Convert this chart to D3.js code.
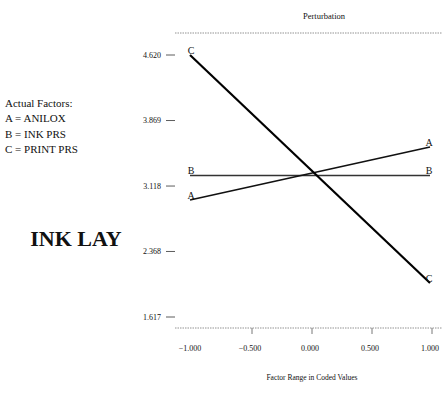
<!DOCTYPE html>
<html>
<head>
<meta charset="utf-8">
<script src="https://cdn.jsdelivr.net/npm/d3@7"></script>
<style>
  body { margin: 0; background: #fff; }
  svg { display: block; }
  text { font-family: "Liberation Serif", "DejaVu Serif", serif; fill: #111; }
</style>
</head>
<body>
<svg id="chart" width="442" height="396"></svg>
<script>
// factor levels (coded) and predicted response at each end
const levels = [-1, 1]
const factorA = [2.958, 3.566]   // ANILOX
const factorB = [3.239, 3.239]   // INK PRS
const factorC = [4.620, 2.007]   // PRINT PRS
const xTicks = [-1, -0.5, 0, 0.5, 1]
const yTicks = [1.617, 2.368, 3.118, 3.869, 4.620]
const legendLines = ['Actual Factors:', 'A = ANILOX', 'B = INK PRS', 'C = PRINT PRS']

const svg = d3.select('#chart')

const x = d3.scaleLinear().domain([-1, 1]).range([190, 430])
const y = d3.scaleLinear().domain([1.617, 4.620]).range([317, 55])

// frame: dotted top and bottom rules
const frameLeft = 175, frameRight = 442
const frameTop = 33, frameBottom = 328

svg.append('line')
  .attr('x1', frameLeft).attr('x2', frameRight)
  .attr('y1', frameTop).attr('y2', frameTop)
  .attr('stroke', '#777')
  .attr('stroke-width', 0.8)
  .attr('stroke-dasharray', '1.5,1')

svg.append('line')
  .attr('x1', frameLeft).attr('x2', frameRight)
  .attr('y1', frameBottom).attr('y2', frameBottom)
  .attr('stroke', '#777')
  .attr('stroke-width', 0.8)
  .attr('stroke-dasharray', '1.5,1')

// y ticks: label followed by a short dash
const yAxis = svg.append('g')
yTicks.forEach(v => {
  yAxis.append('text')
    .attr('x', 161)
    .attr('y', y(v) + 2.5)
    .attr('text-anchor', 'end')
    .attr('font-size', 8)
    .text(d3.format('.3f')(v))
  yAxis.append('line')
    .attr('x1', 166).attr('x2', 175)
    .attr('y1', y(v)).attr('y2', y(v))
    .attr('stroke', '#333')
    .attr('stroke-width', 0.8)
})

// x ticks hang below the bottom rule
const xAxis = svg.append('g')
xTicks.forEach(v => {
  if (v > -1) {
    xAxis.append('line')
      .attr('x1', x(v) + 2).attr('x2', x(v) + 2)
      .attr('y1', frameBottom).attr('y2', frameBottom + 6)
      .attr('stroke', '#555')
      .attr('stroke-width', 0.8)
  }
  xAxis.append('text')
    .attr('x', x(v))
    .attr('y', frameBottom + 23)
    .attr('text-anchor', 'middle')
    .attr('font-size', 8)
    .text(d3.format('.3f')(v))
})

// titles
svg.append('text')
  .attr('x', 324).attr('y', 19)
  .attr('text-anchor', 'middle')
  .attr('font-size', 8.5)
  .text('Perturbation')

svg.append('text')
  .attr('x', 312).attr('y', 380)
  .attr('text-anchor', 'middle')
  .attr('font-size', 7.5)
  .text('Factor Range in Coded Values')

// legend block
legendLines.forEach((t, i) => {
  svg.append('text')
    .attr('x', 5)
    .attr('y', 107 + i * 15.3)
    .attr('font-size', 11)
    .text(t)
})

svg.append('text')
  .attr('x', 76).attr('y', 246)
  .attr('text-anchor', 'middle')
  .attr('font-size', 22)
  .attr('font-weight', 'bold')
  .text('INK LAY')

// factor lines
const series = [
  { key: 'B', values: factorB, width: 1.6, color: '#333' },
  { key: 'A', values: factorA, width: 1.6, color: '#111' },
  { key: 'C', values: factorC, width: 2.2, color: '#000' }
]

const line = d3.line()
  .x((d, i) => x(levels[i]))
  .y(d => y(d))

const plot = svg.append('g')
series.forEach(s => {
  plot.append('path')
    .datum(s.values)
    .attr('d', line)
    .attr('fill', 'none')
    .attr('stroke', s.color)
    .attr('stroke-width', s.width)

  // letter sitting at each end of the line
  s.values.forEach((v, i) => {
    plot.append('text')
      .attr('x', x(levels[i]) + (i === 0 ? 1 : -1))
      .attr('y', y(v) - 1)
      .attr('text-anchor', 'middle')
      .attr('font-family', 'DejaVu Sans, sans-serif')
      .attr('font-size', 10)
      .attr('fill', '#000')
      .text(s.key)
  })
})
</script>
</body>
</html>
